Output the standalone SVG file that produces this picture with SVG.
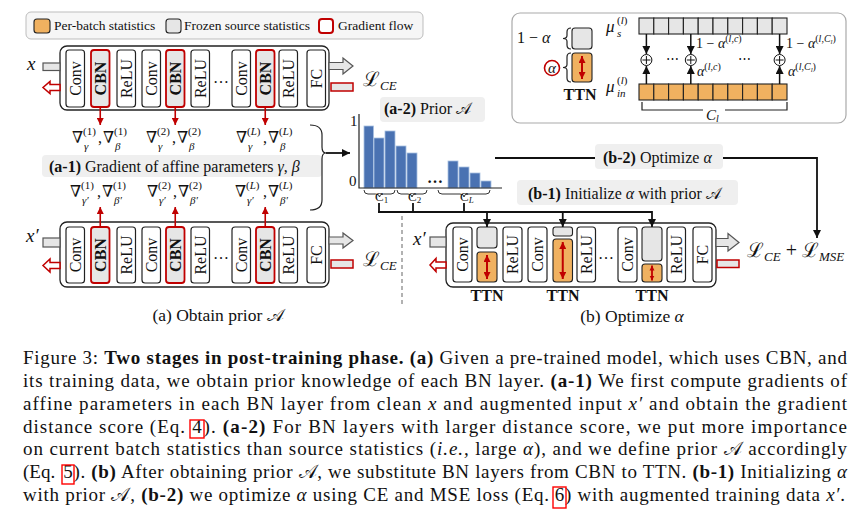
<svg xmlns="http://www.w3.org/2000/svg" width="857" height="510" viewBox="0 0 857 510">
<style>
text { font-family: "Liberation Serif", "DejaVu Serif", serif; fill:#111; }
.blk { fill:#fff; stroke:#222; stroke-width:1.2; }
.cbn { fill:#e6e6e6; stroke:#c00000; stroke-width:1.8; }
.gry { fill:#e6e6e6; stroke:#222; stroke-width:1.1; }
.org { fill:#f0b160; stroke:#222; stroke-width:1.1; }
.net { fill:#fff; stroke:#222; stroke-width:1.3; }
.bl { font-size:16px; text-anchor:middle; }
.bb { font-weight:bold; }
.it { font-style:italic; }
.lab { fill:#efefef; }
.red { stroke:#c00000; stroke-width:1.6; fill:none; }
.rd2 { stroke:#c00000; stroke-width:2; fill:none; }
.conn { stroke:#111; stroke-width:1.8; fill:none; }
.thin { stroke:#222; stroke-width:1.2; fill:none; }
.bar { fill:#4a72b2; stroke:#a8c0e0; stroke-width:0.8; }
.cap { font-size:19px; }
.link { fill:none; stroke:#ff0000; stroke-width:1.4; }
.inarr { fill:#e6e6e6; stroke:#555; stroke-width:1.2; }
.back { fill:#fff; stroke:#c00000; stroke-width:1.5; }
.grd { font-size:16px; }
.sm { font-size:11px; }
</style>
<defs>
<marker id="ah" viewBox="0 0 10 10" refX="10" refY="5" markerWidth="8" markerHeight="8" markerUnits="userSpaceOnUse" orient="auto"><path d="M0,0 L10,5 L0,10 z" fill="#111"/></marker>
<marker id="rh" viewBox="0 0 10 10" refX="10" refY="5" markerWidth="7" markerHeight="7" markerUnits="userSpaceOnUse" orient="auto"><path d="M0,0 L10,5 L0,10 z" fill="#c00000"/></marker>
<marker id="rd" viewBox="0 0 10 10" refX="10" refY="5" markerWidth="7" markerHeight="7" markerUnits="userSpaceOnUse" orient="auto-start-reverse"><path d="M0,0 L10,5 L0,10 z" fill="#c00000"/></marker>
<marker id="rds" viewBox="0 0 10 10" refX="10" refY="5" markerWidth="5" markerHeight="6" markerUnits="userSpaceOnUse" orient="auto-start-reverse"><path d="M0,0 L10,5 L0,10 z" fill="#c00000"/></marker>
</defs>

<!-- Legend -->
<g id="legend">
<rect x="26" y="12" width="397" height="27" rx="5" fill="#f6f6f6" stroke="#bdbdbd" stroke-width="1"/>
<rect x="34" y="19" width="16" height="14" rx="3" class="org"/>
<text x="54" y="30" font-size="13.5">Per-batch statistics</text>
<rect x="166" y="19" width="15" height="14" rx="3" class="gry"/>
<text x="184" y="30" font-size="13.5">Frozen source statistics</text>
<rect x="319" y="19" width="14" height="14" rx="3" fill="#fff" stroke="#c00000" stroke-width="2"/>
<text x="338" y="30" font-size="13.5">Gradient flow</text>
</g>

<!-- Top network (x) -->
<g id="net-top">
<rect x="60" y="46" width="269" height="64" rx="7" class="net"/>
<rect x="66" y="50" width="18.5" height="57" rx="3" class="blk"/>
<text class="bl" transform="translate(75.25,78.5) rotate(-90)" dy="5.5">Conv</text>
<rect x="91" y="50" width="18.5" height="57" rx="3" class="cbn"/>
<text class="bl bb" transform="translate(100.25,78.5) rotate(-90)" dy="5.5">CBN</text>
<rect x="117" y="50" width="18.5" height="57" rx="3" class="blk"/>
<text class="bl" transform="translate(126.25,78.5) rotate(-90)" dy="5.5">ReLU</text>
<rect x="142" y="50" width="18.5" height="57" rx="3" class="blk"/>
<text class="bl" transform="translate(151.25,78.5) rotate(-90)" dy="5.5">Conv</text>
<rect x="166" y="50" width="18.5" height="57" rx="3" class="cbn"/>
<text class="bl bb" transform="translate(175.25,78.5) rotate(-90)" dy="5.5">CBN</text>
<rect x="191" y="50" width="18.5" height="57" rx="3" class="blk"/>
<text class="bl" transform="translate(200.25,78.5) rotate(-90)" dy="5.5">ReLU</text>
<text x="221" y="83" font-size="16" text-anchor="middle">…</text>
<rect x="232" y="50" width="18.5" height="57" rx="3" class="blk"/>
<text class="bl" transform="translate(241.25,78.5) rotate(-90)" dy="5.5">Conv</text>
<rect x="256" y="50" width="18.5" height="57" rx="3" class="cbn"/>
<text class="bl bb" transform="translate(265.25,78.5) rotate(-90)" dy="5.5">CBN</text>
<rect x="279" y="50" width="18.5" height="57" rx="3" class="blk"/>
<text class="bl" transform="translate(288.25,78.5) rotate(-90)" dy="5.5">ReLU</text>
<rect x="307" y="50" width="18.5" height="57" rx="3" class="blk"/>
<text class="bl" transform="translate(316.25,78.5) rotate(-90)" dy="5.5">FC</text>
<text x="27" y="70" font-size="19" class="it">x</text>
<text x="363" y="86" font-size="20">ℒ<tspan font-size="13" class="it" dy="4">CE</tspan></text>
</g>

<!-- Bottom network (x') -->
<g id="net-bottom">
<rect x="60" y="222" width="269" height="65" rx="7" class="net"/>
<rect x="66" y="227" width="18.5" height="56" rx="3" class="blk"/>
<text class="bl" transform="translate(75.25,255) rotate(-90)" dy="5.5">Conv</text>
<rect x="91" y="227" width="18.5" height="56" rx="3" class="cbn"/>
<text class="bl bb" transform="translate(100.25,255) rotate(-90)" dy="5.5">CBN</text>
<rect x="117" y="227" width="18.5" height="56" rx="3" class="blk"/>
<text class="bl" transform="translate(126.25,255) rotate(-90)" dy="5.5">ReLU</text>
<rect x="142" y="227" width="18.5" height="56" rx="3" class="blk"/>
<text class="bl" transform="translate(151.25,255) rotate(-90)" dy="5.5">Conv</text>
<rect x="166" y="227" width="18.5" height="56" rx="3" class="cbn"/>
<text class="bl bb" transform="translate(175.25,255) rotate(-90)" dy="5.5">CBN</text>
<rect x="191" y="227" width="18.5" height="56" rx="3" class="blk"/>
<text class="bl" transform="translate(200.25,255) rotate(-90)" dy="5.5">ReLU</text>
<text x="221" y="259" font-size="16" text-anchor="middle">…</text>
<rect x="232" y="227" width="18.5" height="56" rx="3" class="blk"/>
<text class="bl" transform="translate(241.25,255) rotate(-90)" dy="5.5">Conv</text>
<rect x="256" y="227" width="18.5" height="56" rx="3" class="cbn"/>
<text class="bl bb" transform="translate(265.25,255) rotate(-90)" dy="5.5">CBN</text>
<rect x="279" y="227" width="18.5" height="56" rx="3" class="blk"/>
<text class="bl" transform="translate(288.25,255) rotate(-90)" dy="5.5">ReLU</text>
<rect x="307" y="227" width="18.5" height="56" rx="3" class="blk"/>
<text class="bl" transform="translate(316.25,255) rotate(-90)" dy="5.5">FC</text>
<text x="26" y="242" font-size="19" class="it">x′</text>
<text x="363" y="266" font-size="20">ℒ<tspan font-size="13" class="it" dy="4">CE</tspan></text>
<text x="218" y="321" font-size="17.5" text-anchor="middle">(a) Obtain prior 𝒜</text>
</g>

<!-- Gradient labels -->
<g id="gradients">
<text class="grd" y="143"><tspan x="72">∇</tspan><tspan x="83" y="135" class="sm">(1)</tspan><tspan x="84" y="149.5" class="sm it">γ</tspan><tspan x="98" y="143">,</tspan><tspan x="103">∇</tspan><tspan x="114" y="135" class="sm">(1)</tspan><tspan x="115" y="149.5" class="sm it">β</tspan></text>
<text class="grd" y="143"><tspan x="146">∇</tspan><tspan x="157" y="135" class="sm">(2)</tspan><tspan x="158" y="149.5" class="sm it">γ</tspan><tspan x="172" y="143">,</tspan><tspan x="177">∇</tspan><tspan x="188" y="135" class="sm">(2)</tspan><tspan x="189" y="149.5" class="sm it">β</tspan></text>
<text class="grd" y="143"><tspan x="236">∇</tspan><tspan x="247" y="135" class="sm">(<tspan class="it">L</tspan>)</tspan><tspan x="248" y="149.5" class="sm it">γ</tspan><tspan x="263" y="143">,</tspan><tspan x="268">∇</tspan><tspan x="279" y="135" class="sm">(<tspan class="it">L</tspan>)</tspan><tspan x="280" y="149.5" class="sm it">β</tspan></text>
<rect x="42" y="155" width="280" height="22" rx="4" class="lab"/>
<text x="49" y="172" font-size="16"><tspan class="bb">(a-1)</tspan> Gradient of affine parameters <tspan class="it">γ</tspan>, <tspan class="it">β</tspan></text>
<text class="grd" y="197"><tspan x="70">∇</tspan><tspan x="81" y="189" class="sm">(1)</tspan><tspan x="82" y="204" class="sm it">γ′</tspan><tspan x="97" y="197">,</tspan><tspan x="102">∇</tspan><tspan x="113" y="189" class="sm">(1)</tspan><tspan x="114" y="204" class="sm it">β′</tspan></text>
<text class="grd" y="197"><tspan x="147">∇</tspan><tspan x="158" y="189" class="sm">(2)</tspan><tspan x="159" y="204" class="sm it">γ′</tspan><tspan x="173" y="197">,</tspan><tspan x="178">∇</tspan><tspan x="189" y="189" class="sm">(2)</tspan><tspan x="190" y="204" class="sm it">β′</tspan></text>
<text class="grd" y="197"><tspan x="235">∇</tspan><tspan x="246" y="189" class="sm">(<tspan class="it">L</tspan>)</tspan><tspan x="247" y="204" class="sm it">γ′</tspan><tspan x="263" y="197">,</tspan><tspan x="268">∇</tspan><tspan x="279" y="189" class="sm">(<tspan class="it">L</tspan>)</tspan><tspan x="280" y="204" class="sm it">β′</tspan></text>
</g>

<!-- Histogram (a-2) -->
<g id="prior-histogram">
<rect x="380" y="97" width="105" height="25" rx="4" class="lab"/>
<text x="384" y="114" font-size="16"><tspan class="bb">(a-2)</tspan> Prior 𝒜</text>
<rect x="364" y="126" width="9.5" height="62" class="bar"/>
<rect x="374" y="138" width="10" height="50" class="bar"/>
<rect x="385" y="131" width="10" height="57" class="bar"/>
<rect x="396" y="146" width="10" height="42" class="bar"/>
<rect x="407" y="153" width="10" height="35" class="bar"/>
<rect x="448" y="161" width="10" height="27" class="bar"/>
<rect x="459" y="167" width="10" height="21" class="bar"/>
<rect x="470" y="173" width="10" height="15" class="bar"/>
<rect x="481" y="181" width="10" height="7" class="bar"/>
<path d="M359,114 L359,188 L502,188" class="thin"/>
<text x="350" y="126" font-size="15">1</text>
<text x="349" y="186" font-size="15">0</text>
<text x="435" y="183" font-size="16" text-anchor="middle" class="bb">…</text>
<path d="M364,190 Q364,194 368,194 L375.5,194 Q379.5,194 379.5,197 Q379.5,194 383.5,194 L391,194 Q395,194 395,190" fill="none" stroke="#333" stroke-width="1"/>
<path d="M397,190 Q397,194 401,194 L408,194 Q412,194 412,197 Q412,194 416,194 L423,194 Q427,194 427,190" fill="none" stroke="#333" stroke-width="1"/>
<path d="M438,190 Q438,194 442,194 L460,194 Q464,194 464,197 Q464,194 468,194 L486,194 Q490,194 490,190" fill="none" stroke="#333" stroke-width="1"/>
<text x="375" y="201" font-size="13">C<tspan font-size="9" dy="2">1</tspan></text>
<text x="408" y="201" font-size="13">C<tspan font-size="9" dy="2">2</tspan></text>
<text x="460" y="201" font-size="13">C<tspan font-size="9" dy="2" class="it">L</tspan></text>
</g>

<!-- TTN detail box -->
<g id="ttn-detail">
<rect x="512" y="13" width="334" height="110" rx="8" fill="#fff" stroke="#aaa" stroke-width="1.2"/>
<text x="517" y="43" font-size="16">1 − <tspan class="it">α</tspan></text>
<path d="M571,28 Q567,28 567,32 L567,35.5 Q567,38.5 563,38.5 Q567,38.5 567,41.5 L567,45 Q567,49 571,49" class="thin"/>
<path d="M571,53 Q567,53 567,57 L567,64.5 Q567,67.5 563,67.5 Q567,67.5 567,70.5 L567,78 Q567,82 571,82" class="thin"/>
<rect x="572" y="28" width="20" height="21" rx="3" class="gry"/>
<rect x="572" y="53" width="20" height="29" rx="3" class="org"/>
<line x1="582" y1="56" x2="582" y2="79" class="rd2" marker-start="url(#rd)" marker-end="url(#rd)"/>
<circle cx="552" cy="68" r="7.5" fill="#fff" stroke="#c00000" stroke-width="1.6"/>
<text x="552" y="72.5" font-size="15" text-anchor="middle" class="it">α</text>
<text x="580" y="100" font-size="16" text-anchor="middle" class="bb">TTN</text>
<text x="606" y="32" font-size="17" class="it">μ</text>
<text x="617" y="24" font-size="11">(<tspan class="it">l</tspan>)</text>
<text x="617" y="37" font-size="11" class="it">s</text>
<text x="606" y="92" font-size="17" class="it">μ</text>
<text x="617" y="84" font-size="11">(<tspan class="it">l</tspan>)</text>
<text x="617" y="97" font-size="11" class="it">in</text>
<g class="gry">
<rect x="639" y="18" width="14.8" height="16"/><rect x="653.8" y="18" width="14.8" height="16"/><rect x="668.6" y="18" width="14.8" height="16"/><rect x="683.4" y="18" width="14.8" height="16"/><rect x="698.2" y="18" width="14.8" height="16"/><rect x="713" y="18" width="14.8" height="16"/><rect x="727.8" y="18" width="14.8" height="16"/><rect x="742.6" y="18" width="14.8" height="16"/><rect x="757.4" y="18" width="14.8" height="16"/><rect x="772.2" y="18" width="14.8" height="16"/>
</g>
<g class="org">
<rect x="639" y="84" width="14.8" height="16"/><rect x="653.8" y="84" width="14.8" height="16"/><rect x="668.6" y="84" width="14.8" height="16"/><rect x="683.4" y="84" width="14.8" height="16"/><rect x="698.2" y="84" width="14.8" height="16"/><rect x="713" y="84" width="14.8" height="16"/><rect x="727.8" y="84" width="14.8" height="16"/><rect x="742.6" y="84" width="14.8" height="16"/><rect x="757.4" y="84" width="14.8" height="16"/><rect x="772.2" y="84" width="14.8" height="16"/>
</g>
<g stroke="#111" stroke-width="1.5" fill="none">
<line x1="646.4" y1="34" x2="646.4" y2="54" marker-end="url(#ah)"/>
<line x1="690.8" y1="34" x2="690.8" y2="54" marker-end="url(#ah)"/>
<line x1="779.6" y1="34" x2="779.6" y2="54" marker-end="url(#ah)"/>
<line x1="646.4" y1="84" x2="646.4" y2="66" marker-end="url(#ah)"/>
<line x1="690.8" y1="84" x2="690.8" y2="66" marker-end="url(#ah)"/>
<line x1="779.6" y1="84" x2="779.6" y2="66" marker-end="url(#ah)"/>
</g>
<g stroke="#111" stroke-width="1" fill="#fff">
<circle cx="646.4" cy="60" r="5.5"/><circle cx="690.8" cy="60" r="5.5"/><circle cx="779.6" cy="60" r="5.5"/>
</g>
<path d="M642.4,60 h8 M646.4,56 v8 M686.8,60 h8 M690.8,56 v8 M775.6,60 h8 M779.6,56 v8" stroke="#111" stroke-width="1"/>
<text x="666" y="63" font-size="13">⋯</text>
<text x="738" y="63" font-size="13">⋯</text>
<text x="696" y="48" font-size="14">1 − <tspan class="it">α</tspan><tspan font-size="10" dy="-6">(<tspan class="it">l</tspan>,<tspan class="it">c</tspan>)</tspan></text>
<text x="786" y="48" font-size="14">1 − <tspan class="it">α</tspan><tspan font-size="10" dy="-6">(<tspan class="it">l</tspan>,<tspan class="it">C</tspan><tspan font-size="7" dy="2" class="it">l</tspan><tspan dy="-2">)</tspan></tspan></text>
<text x="697" y="76" font-size="14"><tspan class="it">α</tspan><tspan font-size="10" dy="-6">(<tspan class="it">l</tspan>,<tspan class="it">c</tspan>)</tspan></text>
<text x="788" y="76" font-size="14"><tspan class="it">α</tspan><tspan font-size="10" dy="-6">(<tspan class="it">l</tspan>,<tspan class="it">C</tspan><tspan font-size="7" dy="2" class="it">l</tspan><tspan dy="-2">)</tspan></tspan></text>
<path d="M642,102 L642,110 L703,110 M725,110 L787,110 L787,102" class="thin"/>
<text x="706" y="120" font-size="15" class="it">C<tspan font-size="10" dy="2">l</tspan></text>
</g>

<!-- Right network (TTN) -->
<g id="net-ttn">
<rect x="446" y="223" width="270" height="64" rx="7" class="net"/>
<rect x="453" y="227" width="19" height="55" rx="3" class="blk"/>
<text class="bl" transform="translate(462.5,254.5) rotate(-90)" dy="5.5">Conv</text>
<rect x="477" y="227" width="20" height="21" rx="3" class="gry"/>
<rect x="477" y="252" width="20" height="30" rx="3" class="org"/>
<line x1="487" y1="255" x2="487" y2="279" class="rd2" marker-start="url(#rd)" marker-end="url(#rd)"/>
<rect x="503" y="227" width="19" height="55" rx="3" class="blk"/>
<text class="bl" transform="translate(512.5,254.5) rotate(-90)" dy="5.5">ReLU</text>
<rect x="528" y="227" width="19" height="55" rx="3" class="blk"/>
<text class="bl" transform="translate(537.5,254.5) rotate(-90)" dy="5.5">Conv</text>
<rect x="553" y="227" width="19.5" height="9" rx="2.5" class="gry"/>
<rect x="553" y="239" width="19.5" height="43" rx="3" class="org"/>
<line x1="562.75" y1="242" x2="562.75" y2="279" class="rd2" marker-start="url(#rd)" marker-end="url(#rd)"/>
<rect x="577" y="227" width="18.5" height="55" rx="3" class="blk"/>
<text class="bl" transform="translate(586.25,254.5) rotate(-90)" dy="5.5">ReLU</text>
<text x="606" y="259" font-size="16" text-anchor="middle">…</text>
<rect x="618" y="227" width="19" height="55" rx="3" class="blk"/>
<text class="bl" transform="translate(627.5,254.5) rotate(-90)" dy="5.5">Conv</text>
<rect x="642" y="227" width="20" height="34" rx="3" class="gry"/>
<rect x="642" y="264" width="20" height="18" rx="3" class="org"/>
<line x1="652" y1="265.5" x2="652" y2="280.5" stroke="#c00000" stroke-width="1.8" marker-start="url(#rds)" marker-end="url(#rds)"/>
<rect x="667" y="227" width="18.5" height="55" rx="3" class="blk"/>
<text class="bl" transform="translate(676.25,254.5) rotate(-90)" dy="5.5">ReLU</text>
<rect x="693" y="227" width="19" height="55" rx="3" class="blk"/>
<text class="bl" transform="translate(702.5,254.5) rotate(-90)" dy="5.5">FC</text>
<text x="487" y="301" font-size="16" text-anchor="middle" class="bb">TTN</text>
<text x="563" y="301" font-size="16" text-anchor="middle" class="bb">TTN</text>
<text x="652" y="301" font-size="16" text-anchor="middle" class="bb">TTN</text>
<text x="413" y="245" font-size="19" class="it">x′</text>
<text x="747" y="257" font-size="20">ℒ<tspan font-size="13" class="it" dy="4">CE</tspan><tspan dy="-4"> + ℒ</tspan><tspan font-size="13" class="it" dy="4">MSE</tspan></text>
<text x="632" y="322" font-size="17.5" text-anchor="middle">(b) Optimize <tspan class="it">α</tspan></text>
</g>

<!-- Connectors -->
<g id="connectors">
<rect x="43" y="63" width="17" height="7.5" class="inarr"/>
<polygon points="60,84.5 50,84.5 50,81.5 43,87.5 50,93.5 50,90.5 60,90.5" class="back"/>
<polygon points="329,62.5 343,62.5 343,58 353,66 343,74 343,69.5 329,69.5" class="inarr"/>
<rect x="331" y="83" width="22" height="8" fill="#e6e6e6" stroke="#c00000" stroke-width="1.5"/>
<rect x="43" y="238" width="17" height="9" class="inarr"/>
<polygon points="60,262.5 50,262.5 50,259 43,265.5 50,272 50,268.5 60,268.5" class="back"/>
<polygon points="329,237 343,237 343,233 353,240.5 343,248 343,244 329,244" class="inarr"/>
<rect x="331" y="260" width="22" height="8" fill="#e6e6e6" stroke="#c00000" stroke-width="1.5"/>
<rect x="430" y="237" width="16" height="10" class="inarr"/>
<polygon points="446,262 436,262 436,258.5 430,265 436,271.5 436,268 446,268" class="back"/>
<polygon points="716,238.5 728,238.5 728,233.5 739,242.5 728,251 728,246.5 716,246.5" class="inarr"/>
<rect x="717" y="260" width="22" height="7.5" fill="#e6e6e6" stroke="#c00000" stroke-width="1.5"/>
<line x1="100.25" y1="107" x2="100.25" y2="125" class="red" marker-end="url(#rh)"/>
<line x1="175.25" y1="107" x2="175.25" y2="125" class="red" marker-end="url(#rh)"/>
<line x1="265.25" y1="107" x2="265.25" y2="125" class="red" marker-end="url(#rh)"/>
<line x1="100.25" y1="227" x2="100.25" y2="207" class="red" marker-end="url(#rh)"/>
<line x1="175.25" y1="227" x2="175.25" y2="207" class="red" marker-end="url(#rh)"/>
<line x1="265.25" y1="227" x2="265.25" y2="207" class="red" marker-end="url(#rh)"/>
<path d="M310,125 Q322,125 322,135 L322,147 Q322,153 326,153 Q322,153 322,159 L322,200 Q322,210 310,210" class="thin" stroke-width="1.4"/>
<line x1="326" y1="153" x2="350" y2="153" class="conn" marker-end="url(#ah)"/>
<path d="M379,203 L379,212 M413,203 L413,212 M464,203 L464,212 M378,212 L652,212" class="conn"/>
<line x1="487" y1="212" x2="487" y2="227" class="conn" marker-end="url(#ah)"/>
<line x1="562.75" y1="212" x2="562.75" y2="227" class="conn" marker-end="url(#ah)"/>
<line x1="652" y1="211.1" x2="652" y2="227" class="conn" marker-end="url(#ah)"/>
<rect x="517" y="180" width="221" height="25" rx="4" class="lab"/>
<text x="528" y="199" font-size="16"><tspan class="bb">(b-1)</tspan> Initialize <tspan class="it">α</tspan> with prior 𝒜</text>
<path d="M495,158 L817,158 L817,238" class="conn" marker-end="url(#ah)"/>
<rect x="595" y="144" width="128" height="25" rx="4" class="lab"/>
<text x="603" y="163" font-size="16"><tspan class="bb">(b-2)</tspan> Optimize <tspan class="it">α</tspan></text>
<line x1="402" y1="216" x2="402" y2="306" stroke="#999" stroke-width="1.5" stroke-dasharray="4,3"/>
</g>

<!-- Caption -->
<g id="caption" class="cap">
<text x="23" y="364" textLength="824" lengthAdjust="spacing">Figure 3: <tspan class="bb">Two stages in post-training phase. (a)</tspan> Given a pre-trained model, which uses CBN, and</text>
<text x="23" y="386.8" textLength="824" lengthAdjust="spacing">its training data, we obtain prior knowledge of each BN layer. <tspan class="bb">(a-1)</tspan> We first compute gradients of</text>
<text x="23" y="409.7" textLength="824" lengthAdjust="spacing">affine parameters in each BN layer from clean <tspan class="it">x</tspan> and augmented input <tspan class="it">x′</tspan> and obtain the gradient</text>
<text x="23" y="432.5" textLength="162" lengthAdjust="spacing">distance score (Eq.</text>
<text x="192.2" y="432.5">4</text>
<text x="203.5" y="432.5" textLength="643.5" lengthAdjust="spacing">).  <tspan class="bb">(a-2)</tspan> For BN layers with larger distance score, we put more importance</text>
<text x="23" y="455.3" textLength="824" lengthAdjust="spacing">on current batch statistics than source statistics (<tspan class="it">i.e.,</tspan> large <tspan class="it">α</tspan>), and we define prior 𝒜 accordingly</text>
<text x="23" y="478.2">(Eq.</text>
<text x="63.3" y="478.2">5</text>
<text x="73.5" y="478.2" textLength="773.5" lengthAdjust="spacing">). <tspan class="bb">(b)</tspan> After obtaining prior 𝒜, we substitute BN layers from CBN to TTN. <tspan class="bb">(b-1)</tspan> Initializing <tspan class="it">α</tspan></text>
<text x="23" y="501" textLength="526" lengthAdjust="spacing">with prior 𝒜, <tspan class="bb">(b-2)</tspan> we optimize <tspan class="it">α</tspan> using CE and MSE loss (Eq.</text>
<text x="554.8" y="501">6</text>
<text x="565" y="501" textLength="280" lengthAdjust="spacing">) with augmented training data <tspan class="it">x′</tspan>.</text>
<rect x="190" y="420" width="14" height="18" class="link"/>
<rect x="62" y="465" width="12" height="19" class="link"/>
<rect x="553" y="487" width="13" height="21" class="link"/>
</g>
</svg>
